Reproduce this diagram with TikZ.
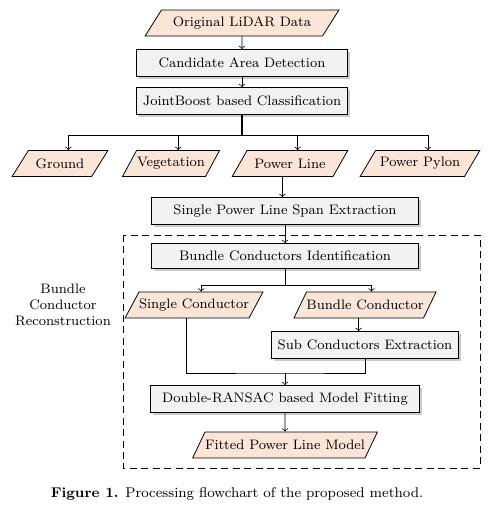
\documentclass[tikz,border=0pt]{standalone}
\usepackage{tikz}
\usetikzlibrary{shapes.geometric,shadows,positioning}
\definecolor{data-peach}{HTML}{FBE5D6}
\definecolor{step-gray}{HTML}{F2F2F2}

\begin{document}
\begin{tikzpicture}[node distance=0.8cm, font=\fontsize{7.8}{9.1}\selectfont, line width=0.45pt,
	procbox/.style={draw, fill=step-gray, minimum height=0.54cm, drop shadow={shadow xshift=0.05cm, shadow yshift=-0.05cm, fill=black!40}},
	databox/.style={draw, fill=data-peach, trapezium, trapezium left angle=60, trapezium right angle=120, trapezium stretches=true, minimum height=0.52cm, inner xsep=0pt}]
		\useasboundingbox (0,0) rectangle (10.04,-10.3);
		
		% Draw the upper chain
		\node (data) [databox, minimum width=3.9cm] at (4.84,-0.46) {Original LiDAR Data};
		\node (cand) [procbox, minimum width=4.22cm, below of=data] {Candidate Area Detection};
		\node (joint) [procbox, minimum width=4.22cm, below of=cand, yshift=0.04cm] {JointBoost based Classification};
		
		% Draw the classes
		\node (ground) [databox, minimum width=1.92cm] at (1.2,-3.27) {Ground};
		\node (veg) [databox, minimum width=1.94cm] at (3.42,-3.27) {Vegetation};
		\node (pline) [databox, minimum width=2.32cm] at (5.8,-3.27) {Power Line};
		\node (pylon) [databox, minimum width=2.4cm] at (8.4,-3.27) {Power Pylon};
		
		% Draw the span extraction
		\node (span) [procbox, minimum width=5.34cm] at (5.7,-4.22) {Single Power Line Span Extraction};
		
		% Draw the bundle conductor part
		\node (ident) [procbox, minimum width=5.34cm, minimum height=0.5cm, below of=span, node distance=0.9cm] {Bundle Conductors Identification};
		\node (single) [databox, minimum width=2.64cm] at (3.88,-6.1) {Single Conductor};
		\node (bundle) [databox, minimum width=2.68cm] at (7.3,-6.1) {Bundle Conductor};
		\node (sub) [procbox, minimum width=3.64cm, below of=bundle, node distance=0.8cm] {Sub Conductors Extraction};
		\node (ransac) [procbox, minimum width=5.38cm] at (5.7,-7.98) {Double-RANSAC based Model Fitting};
		\node (fitted) [databox, minimum width=3.7cm, below of=ransac, node distance=0.92cm] {Fitted Power Line Model};
		\node (bcr) [align=center] at (1.26,-6.1) {Bundle\\Conductor\\Reconstruction};
		\draw[dash pattern=on 4pt off 2.5pt, line width=0.55pt] (2.46,-4.7) rectangle (9.6,-9.36);
		
		% Draw the caption
		\node (caption) [font=\fontsize{8}{9.5}\selectfont] at (4.74,-9.88) {\textbf{Figure 1.} Processing flowchart of the proposed method.};
		
		% Connect the blocks with arrows
		\coordinate (split) at (4.84,-2.7);
		\coordinate (split2) at (5.7,-5.7);
		\coordinate (merge) at (5.7,-7.46);
		\draw[->] (data) -- (cand);
		\draw[->] (cand) -- (joint);
		\draw[line width=1pt] (joint) -- (split);
		\draw[->] (split) -| (ground.top side);
		\draw[->] (split) -| (veg.top side);
		\draw[->] (split) -| (pline.top side);
		\draw[->] (split) -| (pylon.top side);
		\draw[->] (pline.bottom side) -- (pline.bottom side |- span.north);
		\draw[->] (span) -- (ident);
		\draw (ident) -- (split2);
		\draw[->] (split2) -| (single.top side);
		\draw[->] (split2) -| (bundle.top side);
		\draw[->] (bundle.bottom side) -- (bundle.bottom side |- sub.north);
		\draw (single.bottom side) |- (merge) -| (sub);
		\draw[->] (merge) -- (ransac);
		\draw[->] (ransac) -- (fitted);
\end{tikzpicture}
\end{document}
